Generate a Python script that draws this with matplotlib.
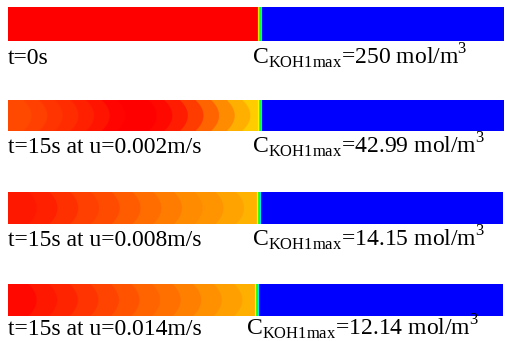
import numpy as np
import matplotlib.pyplot as plt
from matplotlib.colors import LinearSegmentedColormap

plt.rcParams['font.family'] = ['Liberation Serif', 'DejaVu Serif']
plt.rcParams['mathtext.fontset'] = 'custom'
plt.rcParams['mathtext.rm'] = 'Liberation Serif'

# left-hand labels and the peak KOH concentration of each snapshot
captions = ['t=0s', 't=15s at u=0.002m/s', 't=15s at u=0.008m/s', 't=15s at u=0.014m/s']
c_max = ['250', '42.99', '14.15', '12.14']

# contour band levels (0 = blue ... 1 = red) across the KOH-filled section
bands_t0 = [1.0]
bands_u002 = [0.926, 0.936, 0.946, 0.956, 0.966, 0.980, 0.995, 1.0,
              1.0, 0.990, 0.971, 0.941, 0.902, 0.863, 0.828, 0.799]
bands_u008 = [0.975, 0.966, 0.951, 0.936, 0.922, 0.907, 0.892, 0.877,
              0.863, 0.853, 0.838, 0.824]
bands_u014 = [0.990, 0.975, 0.961, 0.946, 0.931, 0.917, 0.902, 0.887,
              0.873, 0.858, 0.843, 0.828]
bands = [bands_t0, bands_u002, bands_u008, bands_u014]

# thin mixing front between the KOH and the water side
front = [0.75, 0.5, 0.25]
water = 0.0

# geometry of each strip (pixel units of the figure)
strip_top = [7, 100, 192, 284]
strip_bot = [41, 131, 224, 316]
strip_left = 8
strip_front = [258, 258, 257, 255]
strip_right = [504, 504, 503, 503]
caption_y = [64, 153, 246, 335]
cmax_x = [252, 252, 252, 246]

cmap = LinearSegmentedColormap.from_list(
    'fluent', ['#0000ff', '#00ffff', '#00ff00', '#ffff00', '#ff0000'])

fig = plt.figure(figsize=(5.05, 3.41), dpi=100)
ax = fig.add_axes([0, 0, 1, 1])
ax.set_xlim(0, 505)
ax.set_ylim(341, 0)
ax.axis('off')

res = 4
bulge = 8.0
for i in range(4):
    x0, xf, x1 = strip_left, strip_front[i], strip_right[i]
    y0, y1 = strip_top[i], strip_bot[i]
    nx = int((x1 - x0) * res)
    ny = int((y1 - y0) * res)
    xs = x0 + (np.arange(nx) + 0.5) / res
    ys = y0 + (np.arange(ny) + 0.5) / res
    X, Y = np.meshgrid(xs, ys)
    r = (Y - (y0 + y1) / 2) / ((y1 - y0) / 2)

    lev = np.array(bands[i])
    bw = (xf - x0) / len(lev)
    s = (X - x0) - bulge * (1 - r ** 2) * (len(lev) > 1)
    idx = np.clip(np.floor(s / bw).astype(int), 0, len(lev) - 1)
    field = lev[idx]

    fw = 4.0 / len(front)
    for k, v in enumerate(front):
        field[(X >= xf + k * fw) & (X < xf + (k + 1) * fw)] = v
    field[X >= xf + 4.0] = water

    ax.imshow(field, cmap=cmap, vmin=0, vmax=1, extent=(x0, x1, y1, y0),
              interpolation='antialiased', aspect='auto')

    ax.text(strip_left, caption_y[i], captions[i], fontsize=17, va='baseline')
    ax.text(cmax_x[i], caption_y[i],
            r'C$_{\mathrm{KOH1max}}$=' + c_max[i] + r' mol/m$^{3}$',
            fontsize=17, va='baseline')

fig.savefig('out.png', dpi=100)
